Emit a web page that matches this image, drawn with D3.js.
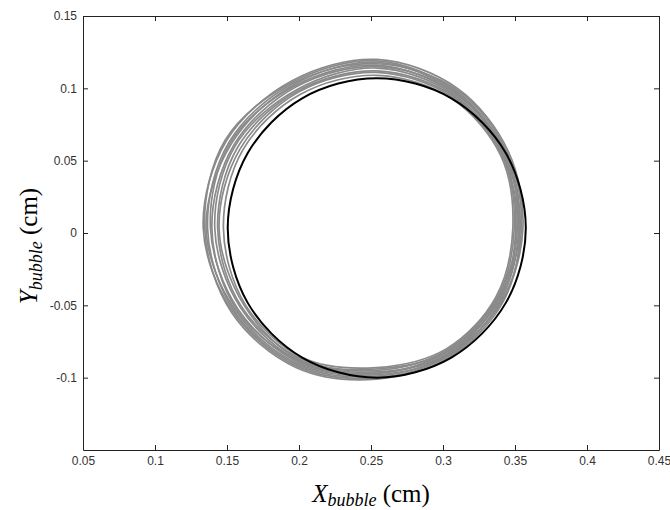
<!DOCTYPE html>
<html>
<head>
<meta charset="utf-8">
<script src="https://cdn.jsdelivr.net/npm/d3@7"></script>
<style>
  body { margin: 0; background: #fff; }
  svg { display: block; }
</style>
</head>
<body>
<div id="chart"></div>
<script>
var xTicks = [0.05, 0.1, 0.15, 0.2, 0.25, 0.3, 0.35, 0.4, 0.45];
var xTickLabels = ["0.05", "0.1", "0.15", "0.2", "0.25", "0.3", "0.35", "0.4", "0.45"];
var yTicks = [-0.1, -0.05, 0, 0.05, 0.1, 0.15];
var yTickLabels = ["-0.1", "-0.05", "0", "0.05", "0.1", "0.15"];

// reference orbit (black)
var blackLoop = [
  [0.3575, 0.0035], [0.3436, 0.0553], [0.3058, 0.0931], [0.2540, 0.1070],
  [0.2022, 0.0931], [0.1644, 0.0553], [0.1505, 0.0035], [0.1644, -0.0483],
  [0.2022, -0.0861], [0.2540, -0.1000], [0.3058, -0.0861], [0.3436, -0.0483]
];

// the grey loops, one array per revolution
var grayLoops = [
  [[0.3555, 0.0035], [0.3454, 0.0563], [0.3098, 0.1001], [0.2540, 0.1200], [0.1952, 0.1053], [0.1496, 0.0638],
   [0.1335, 0.0035], [0.1540, -0.0543], [0.1987, -0.0922], [0.2540, -0.1000], [0.3048, -0.0844], [0.3410, -0.0468]],
  [[0.3535, 0.0035], [0.3436, 0.0553], [0.3088, 0.0983], [0.2540, 0.1190], [0.1957, 0.1044], [0.1488, 0.0643],
   [0.1345, 0.0035], [0.1531, -0.0548], [0.1982, -0.0931], [0.2540, -0.1010], [0.3053, -0.0853], [0.3419, -0.0473]],
  [[0.3545, 0.0035], [0.3445, 0.0558], [0.3093, 0.0992], [0.2540, 0.1170], [0.1962, 0.1035], [0.1514, 0.0628],
   [0.1365, 0.0035], [0.1548, -0.0538], [0.1992, -0.0913], [0.2540, -0.0990], [0.3043, -0.0835], [0.3410, -0.0468]],
  [[0.3525, 0.0035], [0.3428, 0.0548], [0.3083, 0.0975], [0.2540, 0.1180], [0.1967, 0.1027], [0.1531, 0.0618],
   [0.1355, 0.0035], [0.1557, -0.0533], [0.1997, -0.0905], [0.2540, -0.0980], [0.3048, -0.0844], [0.3402, -0.0463]],
  [[0.3515, 0.0035], [0.3436, 0.0553], [0.3078, 0.0966], [0.2540, 0.1160], [0.1972, 0.1018], [0.1522, 0.0623],
   [0.1385, 0.0035], [0.1574, -0.0523], [0.2002, -0.0896], [0.2540, -0.0970], [0.3038, -0.0827], [0.3393, -0.0458]],
  [[0.3535, 0.0035], [0.3419, 0.0543], [0.3083, 0.0975], [0.2540, 0.1150], [0.1977, 0.1009], [0.1548, 0.0608],
   [0.1395, 0.0035], [0.1566, -0.0528], [0.2007, -0.0887], [0.2540, -0.0960], [0.3043, -0.0835], [0.3384, -0.0453]],
  [[0.3505, 0.0035], [0.3419, 0.0543], [0.3073, 0.0957], [0.2540, 0.1140], [0.1987, 0.0992], [0.1557, 0.0603],
   [0.1415, 0.0035], [0.1592, -0.0513], [0.2007, -0.0887], [0.2540, -0.0970], [0.3033, -0.0818], [0.3393, -0.0458]],
  [[0.3515, 0.0035], [0.3410, 0.0538], [0.3068, 0.0949], [0.2540, 0.1120], [0.1992, 0.0983], [0.1574, 0.0593],
   [0.1435, 0.0035], [0.1600, -0.0508], [0.2017, -0.0870], [0.2540, -0.0950], [0.3028, -0.0809], [0.3376, -0.0448]],
  [[0.3495, 0.0035], [0.3410, 0.0538], [0.3063, 0.0940], [0.2540, 0.1110], [0.1997, 0.0975], [0.1592, 0.0583],
   [0.1445, 0.0035], [0.1618, -0.0498], [0.2012, -0.0879], [0.2540, -0.0940], [0.3033, -0.0818], [0.3376, -0.0448]],
  [[0.3485, 0.0035], [0.3402, 0.0533], [0.3058, 0.0931], [0.2540, 0.1090], [0.2007, 0.0957], [0.1609, 0.0573],
   [0.1475, 0.0035], [0.1626, -0.0493], [0.2022, -0.0861], [0.2540, -0.0930], [0.3023, -0.0801], [0.3367, -0.0443]]
];

var w = 670,
    h = 510,
    plotLeft = 83,
    plotRight = 659,
    plotTop = 16,
    plotBottom = 450;

var x = d3.scaleLinear().domain([0.05, 0.45]).range([plotLeft, plotRight]);
var y = d3.scaleLinear().domain([-0.15, 0.15]).range([plotBottom, plotTop]);

var svg = d3.select("#chart").append("svg")
            .attr("width", w)
            .attr("height", h);

var line = d3.line()
             .x(function(d) { return x(d[0]); })
             .y(function(d) { return y(d[1]); })
             .curve(d3.curveCatmullRomClosed);

svg.selectAll("path.gray")
   .data(grayLoops)
   .enter()
   .append("path")
   .attr("class", "gray")
   .attr("d", line)
   .style("fill", "none")
   .style("stroke", "#8a8a8a")
   .style("stroke-width", 1.7);

svg.append("path")
   .datum(blackLoop)
   .attr("d", line)
   .style("fill", "none")
   .style("stroke", "#000")
   .style("stroke-width", 2);

// box with inward ticks, matlab style
var fmtX = function(d, i) { return xTickLabels[i]; };
var fmtY = function(d, i) { return yTickLabels[i]; };

svg.append("g")
   .attr("transform", "translate(0," + plotBottom + ")")
   .call(d3.axisBottom(x).tickValues(xTicks).tickFormat(fmtX)
           .tickSizeInner(-5).tickSizeOuter(0).tickPadding(6));

svg.append("g")
   .attr("transform", "translate(" + plotLeft + ",0)")
   .call(d3.axisLeft(y).tickValues(yTicks).tickFormat(fmtY)
           .tickSizeInner(-5).tickSizeOuter(0).tickPadding(6));

svg.append("g")
   .attr("transform", "translate(0," + plotTop + ")")
   .call(d3.axisTop(x).tickValues(xTicks).tickFormat("")
           .tickSizeInner(-5).tickSizeOuter(0));

svg.append("g")
   .attr("transform", "translate(" + plotRight + ",0)")
   .call(d3.axisRight(y).tickValues(yTicks).tickFormat("")
           .tickSizeInner(-5).tickSizeOuter(0));

svg.selectAll(".domain, .tick line")
   .style("stroke", "#222")
   .style("stroke-width", 1);

svg.selectAll(".tick text")
   .style("font-family", "'Liberation Sans', Arial, sans-serif")
   .style("font-size", "12px")
   .style("fill", "#333");

// axis titles
var xt = svg.append("text")
            .attr("x", (plotLeft + plotRight) / 2)
            .attr("y", 502)
            .attr("text-anchor", "middle")
            .style("font-family", "'Liberation Serif', 'Times New Roman', serif")
            .style("font-size", "25px")
            .style("fill", "#000");
xt.append("tspan").style("font-style", "italic").text("X");
xt.append("tspan").style("font-style", "italic").style("font-size", "18px")
  .attr("dy", 4).text("bubble");
xt.append("tspan").attr("dy", -4).text(" (cm)");

var yt = svg.append("text")
            .attr("transform", "translate(37,246) rotate(-90)")
            .attr("text-anchor", "middle")
            .style("font-family", "'Liberation Serif', 'Times New Roman', serif")
            .style("font-size", "25px")
            .style("fill", "#000");
yt.append("tspan").style("font-style", "italic").text("Y");
yt.append("tspan").style("font-style", "italic").style("font-size", "18px")
  .attr("dy", 5).text("bubble");
yt.append("tspan").attr("dy", -5).text(" (cm)");
</script>
</body>
</html>
